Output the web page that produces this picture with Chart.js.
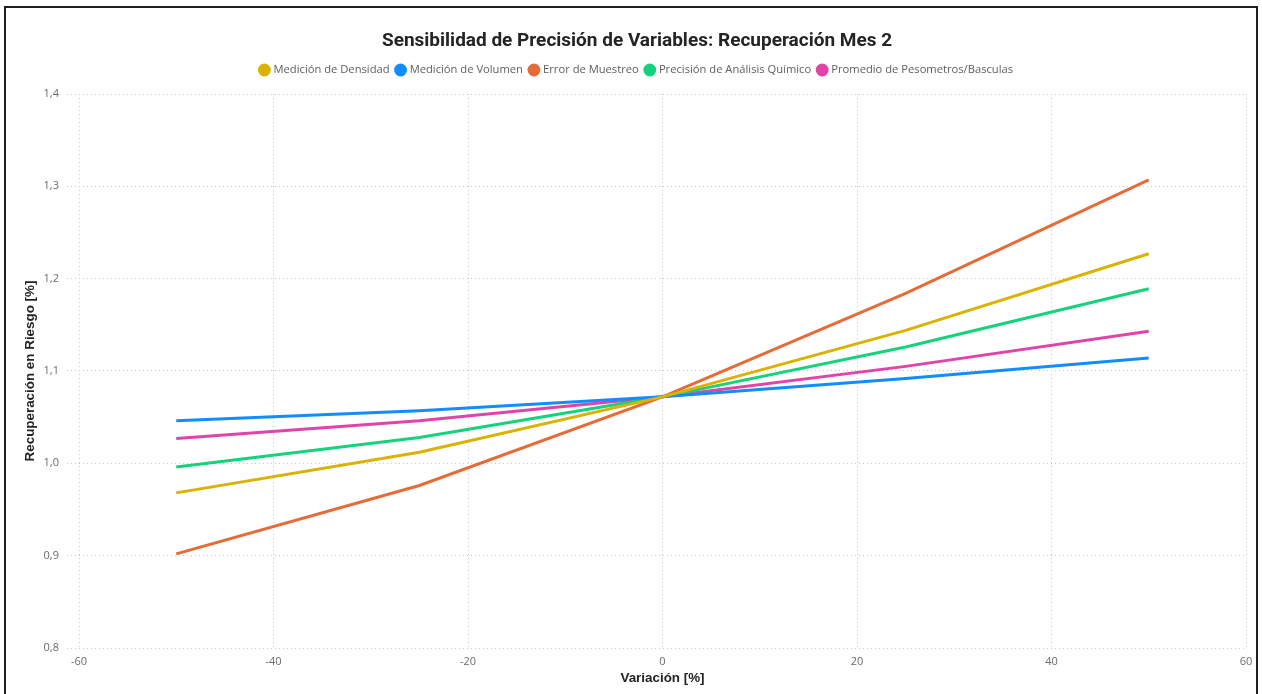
<!DOCTYPE html>
<html>
<head>
<meta charset="utf-8">
<script src="https://cdn.jsdelivr.net/npm/chart.js@4.4.1/dist/chart.umd.min.js"></script>
<style>
  html, body { margin: 0; padding: 0; background: #ffffff; overflow: hidden; }
  #wrap { position: relative; width: 1262px; height: 694px; }
  #frame {
    position: absolute; left: 4px; top: 6px; width: 1254px; height: 720px;
    border: 2px solid #1f1f1f; box-sizing: border-box; pointer-events: none;
  }
  canvas { position: absolute; left: 0; top: 0; }
</style>
</head>
<body>
<div id="wrap">
  <canvas id="chart" width="1262" height="694"></canvas>
  <div id="frame"></div>
</div>
<script>
// Variación aplicada a cada variable (%)
const variacion = [-50, -25, 0, 25, 50];

// Recuperación en riesgo resultante para cada variable
const medicionDensidad   = [0.968, 1.012, 1.072, 1.144, 1.227];
const medicionVolumen    = [1.046, 1.057, 1.072, 1.092, 1.114];
const errorMuestreo      = [0.902, 0.976, 1.072, 1.184, 1.307];
const precisionQuimico   = [0.996, 1.028, 1.072, 1.126, 1.189];
const promedioPesometros = [1.027, 1.046, 1.072, 1.105, 1.143];

const seriesNames = [
  'Medición de Densidad',
  'Medición de Volumen',
  'Error de Muestreo',
  'Precisión de Análisis Químico',
  'Promedio de Pesometros/Basculas'
];
const seriesValues = [medicionDensidad, medicionVolumen, errorMuestreo, precisionQuimico, promedioPesometros];
const seriesColors = ['#D9B300', '#118DFF', '#E66C37', '#15D27C', '#E044A7'];

const titleText = 'Sensibilidad de Precisión de Variables: Recuperación Mes 2';
const xTitle = 'Variación [%]';
const yTitle = 'Recuperación en Riesgo [%]';

const datasets = seriesNames.map((name, i) => ({
  label: name,
  data: variacion.map((x, j) => ({ x: x, y: seriesValues[i][j] })),
  borderColor: seriesColors[i],
  backgroundColor: seriesColors[i],
  borderWidth: 3,
  pointRadius: 0,
  pointHoverRadius: 0,
  tension: 0,
  fill: false
}));

const gridColor = '#c8c8c8';
const tickColor = '#6b6b6b';
const baseFont = '"Open Sans", "Noto Sans", sans-serif';
const axisTitleFont = { family: '"Liberation Sans", Arial, sans-serif', size: 13.4, weight: 'bold' };

// Empty layout box that leaves a little room between the legend and the plot area
const legendGap = {
  id: 'legendGap',
  beforeInit(chart) {
    const box = {
      position: 'top', weight: 500, fullSize: true, options: {},
      top: 0, left: 0, right: 0, bottom: 0, width: 0, height: 0,
      isHorizontal() { return true; },
      update(maxWidth) { this.width = maxWidth; this.height = 8.4; },
      draw() {}
    };
    Chart.layouts.addBox(chart, box);
  }
};

new Chart(document.getElementById('chart'), {
  type: 'line',
  data: { datasets: datasets },
  options: {
    responsive: false,
    animation: false,
    layout: { padding: { left: 28, right: 16, top: 0, bottom: 0 } },
    plugins: {
      tooltip: { enabled: false },
      title: {
        display: true,
        text: titleText,
        color: '#252423',
        font: { family: 'Roboto, "Liberation Sans", sans-serif', size: 19, weight: 'bold' },
        padding: { top: 29.6, bottom: 4.5 }
      },
      legend: {
        display: true,
        position: 'top',
        labels: {
          usePointStyle: true,
          pointStyle: 'circle',
          boxWidth: 7,
          boxHeight: 7,
          padding: 7.5,
          color: '#605E5C',
          font: { family: baseFont, size: 11.2 }
        }
      }
    },
    scales: {
      x: {
        type: 'linear',
        min: -60,
        max: 60,
        afterFit: (s) => { s.height = 46; },
        border: { display: false, dash: [1, 3] },
        grid: {
          color: gridColor,
          lineWidth: 1,
          drawTicks: false
        },
        ticks: {
          stepSize: 20,
          padding: 7,
          color: tickColor,
          font: { family: baseFont, size: 11 },
          maxRotation: 0
        },
        title: {
          display: true,
          text: xTitle,
          color: '#252423',
          font: axisTitleFont,
          padding: { top: 0, bottom: 8 }
        }
      },
      y: {
        type: 'linear',
        min: 0.8,
        max: 1.4,
        afterFit: (s) => { s.width = 51; },
        border: { display: false, dash: [1, 3] },
        grid: {
          color: gridColor,
          lineWidth: 1,
          drawTicks: true,
          tickLength: 12,
          tickColor: gridColor,
          tickBorderDash: [1, 3]
        },
        ticks: {
          stepSize: 0.1,
          padding: 8,
          color: tickColor,
          font: { family: baseFont, size: 11 },
          callback: (v) => v.toFixed(1).replace('.', ',')
        },
        title: {
          display: true,
          text: yTitle,
          color: '#252423',
          font: axisTitleFont,
          padding: { top: -6, bottom: 0 }
        }
      }
    }
  },
  plugins: [legendGap]
});
</script>
</body>
</html>
